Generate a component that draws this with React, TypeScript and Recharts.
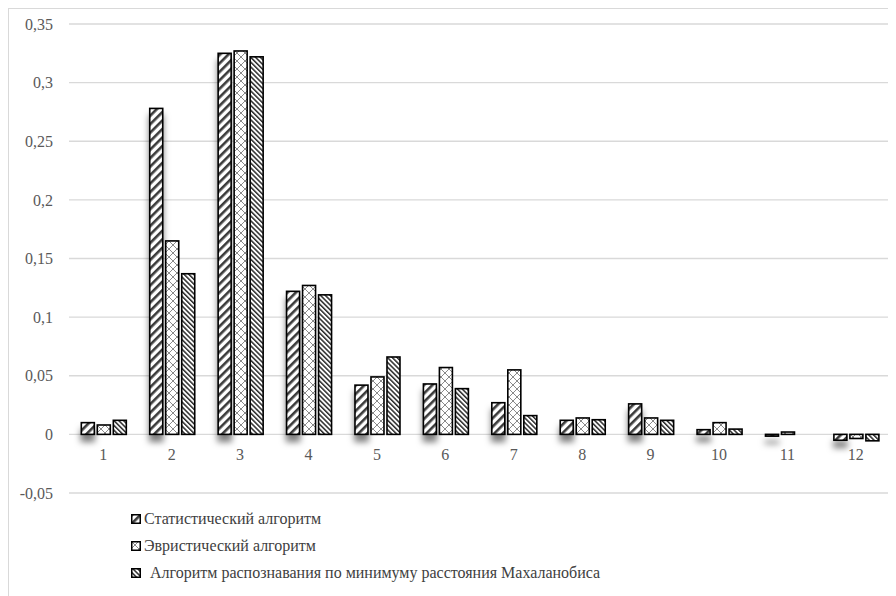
import { BarChart, Bar, XAxis, YAxis, CartesianGrid } from 'recharts'

// Excel-style grouped bar chart, monochrome hatch fills
const categories = ['1', '2', '3', '4', '5', '6', '7', '8', '9', '10', '11', '12']
const statistical = [0.010, 0.278, 0.325, 0.122, 0.042, 0.043, 0.027, 0.012, 0.026, 0.004, -0.0015, -0.005]
const heuristic = [0.008, 0.165, 0.327, 0.127, 0.049, 0.057, 0.055, 0.014, 0.014, 0.010, 0.002, -0.0035]
const mahalanobis = [0.012, 0.137, 0.322, 0.119, 0.066, 0.039, 0.016, 0.0125, 0.012, 0.0045, 0, -0.0055]
const yTicks = [-0.05, 0, 0.05, 0.1, 0.15, 0.2, 0.25, 0.3, 0.35]

const seriesNames = [
    'Статистический алгоритм',
    'Эвристический алгоритм',
    'Алгоритм распознавания по минимуму расстояния Махаланобиса',
]

const data = categories.map((name, i) => ({
    name,
    s1: statistical[i],
    s2: heuristic[i],
    s3: mahalanobis[i],
}))

const FONT = '"Liberation Serif", "Times New Roman", serif'
const fills = ['url(#hatchWide)', 'url(#hatchCross)', 'url(#hatchDense)']

const formatTick = (v: number) => String(v).replace('.', ',')

function HatchBar(props: any) {
    const { x, y, width, height, fill, shadow } = props
    const top = Math.min(y, y + height)
    const h = Math.abs(height)
    if (h < 0.5) return null
    return (
        <rect
            x={x}
            y={top}
            width={width}
            height={h}
            fill={fill}
            stroke="#000"
            strokeWidth={1.6}
            filter={shadow ? 'url(#barShadow)' : undefined}
        />
    )
}

// category labels sit just under the zero line, like Excel
function CategoryTick(props: any) {
    const { x, y, payload } = props
    return (
        <text x={x} y={y - 47} textAnchor="middle" dominantBaseline="central" fill="#595959" fontSize={16} fontFamily={FONT}>
            {payload.value}
        </text>
    )
}

export default function App() {
    return (
        <div
            style={{
                position: 'relative',
                width: 888,
                height: 588,
                borderTop: '1px solid #d9d9d9',
                borderLeft: '1px solid #d9d9d9',
                boxSizing: 'border-box',
                overflow: 'hidden',
                background: '#fff',
            }}
        >
            <BarChart
                width={887}
                height={500}
                data={data}
                margin={{ top: 15, right: 6, left: 0, bottom: 15 }}
                barCategoryGap="18%"
                barGap={3}
            >
                <defs>
                    <pattern id="hatchWide" patternUnits="userSpaceOnUse" width="6" height="6" patternTransform="rotate(45)">
                        <rect width="6" height="6" fill="#fff" />
                        <rect width="2.6" height="6" fill="#3a3a3a" />
                    </pattern>
                    <pattern id="hatchDense" patternUnits="userSpaceOnUse" width="3.4" height="3.4" patternTransform="rotate(-45)">
                        <rect width="3.4" height="3.4" fill="#fff" />
                        <rect width="1.5" height="3.4" fill="#2a2a2a" />
                    </pattern>
                    <pattern id="hatchCross" patternUnits="userSpaceOnUse" width="8" height="8">
                        <rect width="8" height="8" fill="#fff" />
                        <path d="M0,0 L8,8 M8,0 L0,8" stroke="#8a8a8a" strokeWidth="1" />
                    </pattern>
                    <filter id="barShadow" filterUnits="userSpaceOnUse" x="0" y="0" width="900" height="600">
                        <feDropShadow dx="0" dy="7" stdDeviation="3" floodColor="#000" floodOpacity="0.5" />
                    </filter>
                </defs>
                <CartesianGrid vertical={false} stroke="#d9d9d9" strokeWidth={1.3} />
                <XAxis
                    dataKey="name"
                    axisLine={false}
                    tickLine={false}
                    height={1}
                    interval={0}
                    tick={<CategoryTick />}
                />
                <YAxis
                    domain={[-0.05, 0.35]}
                    ticks={yTicks}
                    interval={0}
                    width={60}
                    axisLine={false}
                    tickLine={false}
                    tickSize={0}
                    tickMargin={16}
                    tickFormatter={formatTick}
                    tick={{ fill: '#595959', fontSize: 16, fontFamily: FONT }}
                />
                <Bar dataKey="s1" name={seriesNames[0]} fill={fills[0]} isAnimationActive={false} shape={(p: any) => <HatchBar {...p} shadow />} />
                <Bar dataKey="s2" name={seriesNames[1]} fill={fills[1]} isAnimationActive={false} shape={(p: any) => <HatchBar {...p} />} />
                <Bar dataKey="s3" name={seriesNames[2]} fill={fills[2]} isAnimationActive={false} shape={(p: any) => <HatchBar {...p} />} />
            </BarChart>

            <div style={{ position: 'absolute', left: 122, top: 496, fontFamily: FONT, fontSize: 16, color: '#404040' }}>
                {seriesNames.map((name, i) => (
                    <div key={name} style={{ display: 'flex', alignItems: 'center', height: 27 }}>
                        <svg width={10} height={10} style={{ marginRight: i === 2 ? 9 : 3, flex: 'none' }}>
                            <rect x={0.75} y={0.75} width={8.5} height={8.5} fill={fills[i]} stroke="#000" strokeWidth={1.5} />
                        </svg>
                        <span style={{ whiteSpace: 'nowrap' }}>{name}</span>
                    </div>
                ))}
            </div>
        </div>
    )
}
